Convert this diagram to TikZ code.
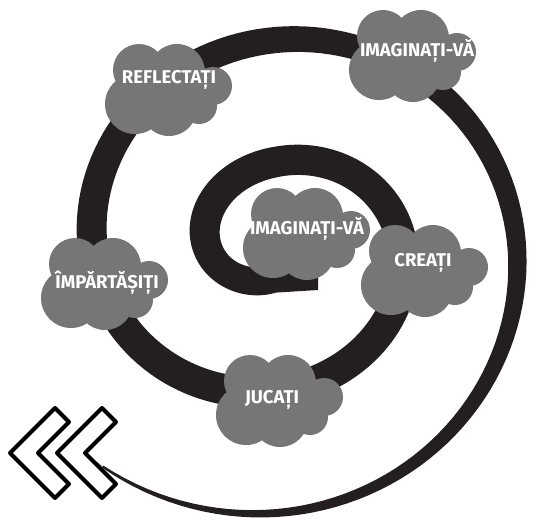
\documentclass[tikz,border=0pt]{standalone}
\usepackage{fontspec}
\newfontfamily\cloudfont{Fira Sans}
\definecolor{spiralink}{HTML}{231F20}
\definecolor{cloudfill}{HTML}{767676}
\begin{document}
\begin{tikzpicture}[x=1pt,y=-1pt,
  declare function={
    sprx(\a) = 69 + (\a-180)*0.318;
    spry(\a) = 84 + (\a-270)*0.339 + max(0,270-\a)*0.045;
    spw(\a)  = 2 + 29*(1 - (max(0,\a-480)/370)*(max(0,\a-480)/370));
  },
  cloudtext/.style={text=white, inner sep=0pt,
    font=\cloudfont\bfseries\fontsize{18.5}{18.5}\selectfont},
  chev/.style={draw=black, line width=4, fill=white, line join=round},
  puffcloud/.pic={
    \fill[cloudfill]
      (-30,-20) circle[radius=26]
      (8,-18) circle[radius=28]
      (44,-4) circle[radius=19]
      (-34,14) circle[radius=30]
      (0,18) circle[radius=28]
      (30,16) circle[radius=18]
      (0,0) circle[radius=32];
  }]
\useasboundingbox (0,0) rectangle (533,523);
\fill[white] (0,0) rectangle (533,523);

% tapering spiral band
\fill[spiralink] (318,264) -- (318,290)
  -- plot[domain=90:848, samples=300, variable=\t]
     ({276+(sprx(\t)+spw(\t)/2)*cos(\t)}, {246+(spry(\t)+spw(\t)/2)*sin(\t)})
  -- plot[domain=848:90, samples=300, variable=\t]
     ({276+(sprx(\t)-spw(\t)/2)*cos(\t)}, {246+(spry(\t)-spw(\t)/2)*sin(\t)})
  -- cycle;
\coordinate (tailend) at ({276+sprx(848)*cos(848)}, {246+spry(848)*sin(848)});
\coordinate (tailtip) at (70,443);
\draw[gray, line width=0.6] (tailend) -- (tailtip);

% clouds
\pic at (413,56) {puffcloud};
\node[cloudtext] (imagout) at (417,51) {IMAGINAȚI-VĂ};
\pic at (169,90) {puffcloud};
\node[cloudtext] (reflect) at (169,80) {REFLECTAȚI};
\pic at (105,284) {puffcloud};
\node[cloudtext] (share) at (107,283) {ÎMPĂRTĂȘIȚI};
\pic at (307,234) {puffcloud};
\node[cloudtext] (imagin) at (307,229) {IMAGINAȚI-VĂ};
\pic at (425,271) {puffcloud};
\node[cloudtext] (create) at (423,263) {CREAȚI};
\pic at (280,401) {puffcloud};
\node[cloudtext] (play) at (272,400) {JUCAȚI};

% double chevron
\draw[chev] (10,453) -- (55,408) -- (69,422) -- (38,453) -- (69,484) -- (55,498) -- cycle;
\draw[chev] (57,453) -- (102,408) -- (116,422) -- (85,453) -- (116,484) -- (102,498) -- cycle;
\end{tikzpicture}
\end{document}
